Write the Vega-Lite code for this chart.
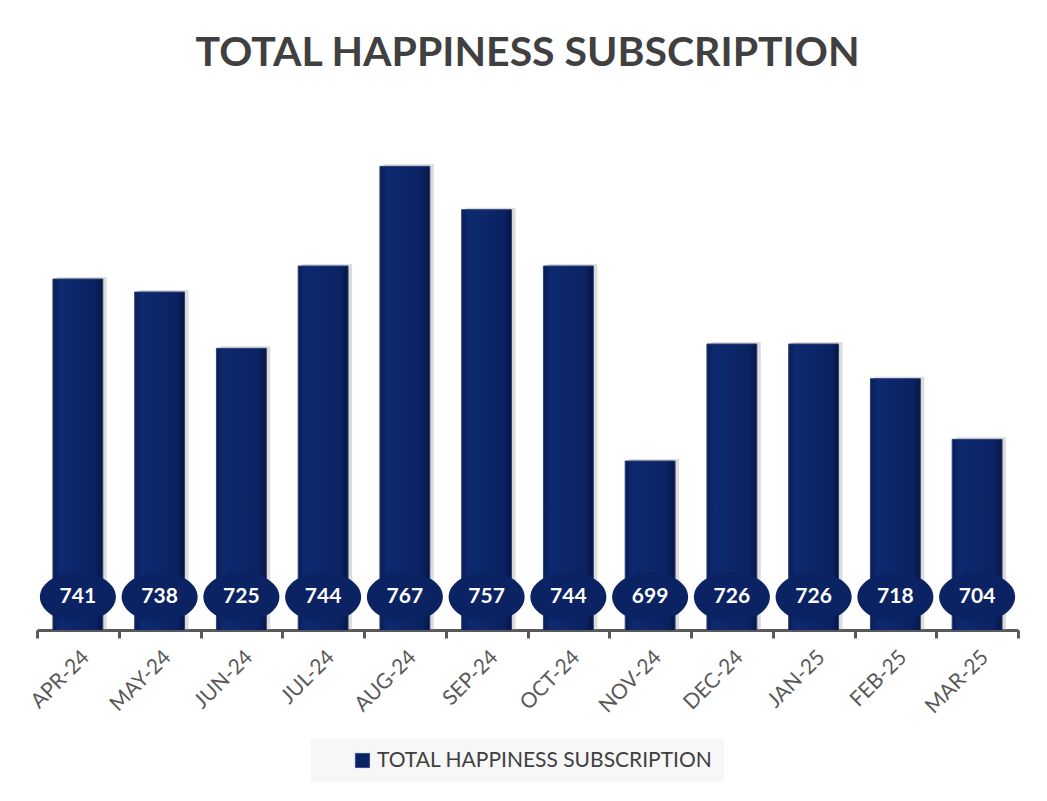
{
  "$schema": "https://vega.github.io/schema/vega-lite/v6.json",
  "autosize": "none",
  "width": 981,
  "height": 520,
  "padding": {"left": 37, "top": 110, "right": 29, "bottom": 171},
  "background": "white",
  "config": {"view": {"stroke": null}, "font": "Lato"},
  "title": {
    "text": "TOTAL HAPPINESS SUBSCRIPTION",
    "anchor": "middle",
    "fontSize": 41,
    "fontWeight": "bold",
    "font": "Lato",
    "color": "#404040",
    "offset": 35
  },
  "data": {
    "values": [
      {"month": "APR-24", "value": 741, "series": "TOTAL HAPPINESS SUBSCRIPTION"},
      {"month": "MAY-24", "value": 738, "series": "TOTAL HAPPINESS SUBSCRIPTION"},
      {"month": "JUN-24", "value": 725, "series": "TOTAL HAPPINESS SUBSCRIPTION"},
      {"month": "JUL-24", "value": 744, "series": "TOTAL HAPPINESS SUBSCRIPTION"},
      {"month": "AUG-24", "value": 767, "series": "TOTAL HAPPINESS SUBSCRIPTION"},
      {"month": "SEP-24", "value": 757, "series": "TOTAL HAPPINESS SUBSCRIPTION"},
      {"month": "OCT-24", "value": 744, "series": "TOTAL HAPPINESS SUBSCRIPTION"},
      {"month": "NOV-24", "value": 699, "series": "TOTAL HAPPINESS SUBSCRIPTION"},
      {"month": "DEC-24", "value": 726, "series": "TOTAL HAPPINESS SUBSCRIPTION"},
      {"month": "JAN-25", "value": 726, "series": "TOTAL HAPPINESS SUBSCRIPTION"},
      {"month": "FEB-25", "value": 718, "series": "TOTAL HAPPINESS SUBSCRIPTION"},
      {"month": "MAR-25", "value": 704, "series": "TOTAL HAPPINESS SUBSCRIPTION"}
    ]
  },
  "encoding": {
    "x": {
      "field": "month",
      "type": "nominal",
      "sort": null,
      "scale": {"paddingInner": 0, "paddingOuter": 0},
      "axis": {
        "title": null,
        "labelAngle": -45,
        "labelFontSize": 21,
        "labelColor": "#595959",
        "labelFont": "Lato",
        "labelPadding": 8,
        "domainColor": "#595959",
        "domainWidth": 3,
        "tickColor": "#595959",
        "tickWidth": 3,
        "tickSize": 8,
        "tickBand": "extent"
      }
    }
  },
  "layer": [
    {
      "mark": {"type": "bar", "fill": "#9a9a9a", "opacity": 0.35, "xOffset": 4, "yOffset": -2, "clip": true, "width": {"band": 0.61}},
      "encoding": {
        "y": {"field": "value", "type": "quantitative", "scale": {"domain": [660, 780]}, "axis": null}
      }
    },
    {
      "mark": {
        "type": "bar",
        "clip": true,
        "width": {"band": 0.61},
        "fill": {
          "gradient": "linear",
          "x1": 0, "x2": 1, "y1": 0, "y2": 0,
          "stops": [
            {"offset": 0, "color": "#0a1d55"},
            {"offset": 0.15, "color": "#0d2a70"},
            {"offset": 0.85, "color": "#0b2262"},
            {"offset": 1, "color": "#061441"}
          ]
        },
        "stroke": "#2a3f7a",
        "strokeWidth": 1
      },
      "encoding": {
        "y": {"field": "value", "type": "quantitative"}
      }
    },
    {
      "mark": {
        "type": "point",
        "filled": true,
        "opacity": 1,
        "shape": "M -1 0 A 1 0.65 0 1 0 1 0 A 1 0.65 0 1 0 -1 0 Z",
        "size": 5776,
        "yOffset": -33
      },
      "encoding": {
        "y": {"datum": 660, "type": "quantitative"},
        "color": {
          "field": "series",
          "type": "nominal",
          "scale": {"range": ["#0b2263"]},
          "legend": {
            "title": null,
            "orient": "none",
            "legendX": 274,
            "legendY": 629,
            "symbolType": "square",
            "symbolSize": 200,
            "symbolStrokeColor": "#3a4f8a",
            "symbolStrokeWidth": 1,
            "labelFontSize": 21,
            "labelColor": "#404040",
            "labelFont": "Lato",
            "labelLimit": 500,
            "fillColor": "#f7f7f7",
            "padding": 11,
            "symbolOffset": 30
          }
        }
      }
    },
    {
      "mark": {"type": "text", "color": "white", "fontSize": 21, "fontWeight": "bold", "font": "Lato", "yOffset": -33, "baseline": "middle"},
      "encoding": {
        "y": {"datum": 660, "type": "quantitative"},
        "text": {"field": "value", "type": "quantitative"}
      }
    }
  ]
}
